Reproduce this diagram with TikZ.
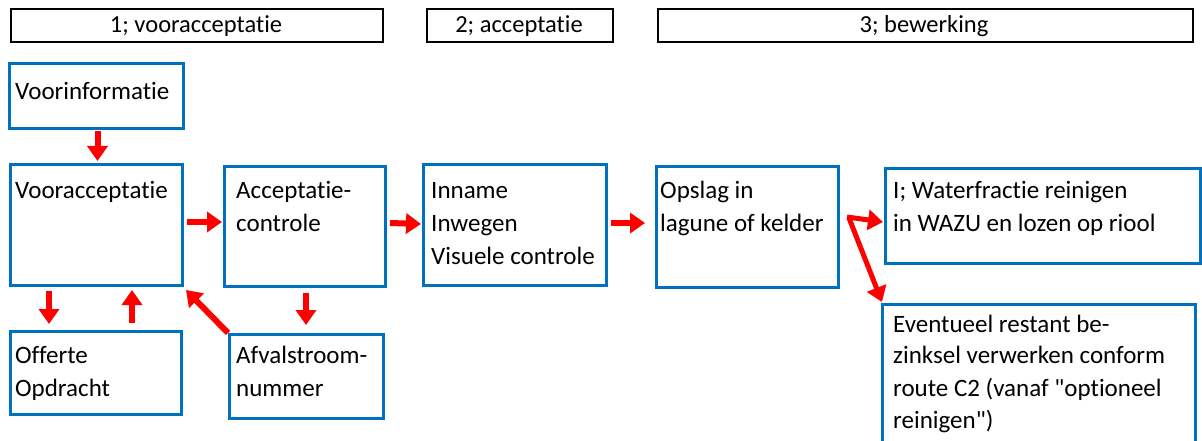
\documentclass[tikz,border=0pt]{standalone}
\usepackage{fontspec}
\newfontfamily\carl{Carlito}[Ligatures=NoCommon]
\usetikzlibrary{arrows.meta,calc}
\definecolor{boxblue}{RGB}{0,112,192}
\begin{document}
\begin{tikzpicture}[x=1pt,y=-1pt,
  hbox/.style={draw=black, line width=1.8pt, inner sep=0pt, anchor=north west},
  bbox/.style={draw=boxblue, line width=3pt, inner sep=0pt, anchor=north west},
  txt/.style={inner sep=0pt, anchor=base west, font=\carl\fontsize{25}{33}\selectfont},
  htxt/.style={inner sep=0pt, anchor=base, font=\carl\fontsize{24.5}{28}\selectfont},
  arr/.style={draw=red, line width=6pt, -{Triangle[length=15pt,width=20pt]}}]
\clip (0,0) rectangle (1202,441);
\useasboundingbox (0,0) rectangle (1202,441);
\fill[white] (0,0) rectangle (1202,441);
% headers
\node[hbox, minimum width=372pt, minimum height=33pt] (h1) at (10,8) {};
\node[hbox, minimum width=186pt, minimum height=33pt] (h2) at (426,8) {};
\node[hbox, minimum width=535pt, minimum height=33pt] (h3) at (657,8) {};
\node[htxt] (h1t) at (196,33) {1; vooracceptatie};
\node[htxt] (h2t) at (519,33) {2; acceptatie};
\node[htxt] (h3t) at (924,33) {3; bewerking};
% boxes
\node[bbox, minimum width=174pt, minimum height=65pt] (vinfo) at (8,62) {};
\node[bbox, minimum width=172pt, minimum height=121pt] (voor) at (9,163) {};
\node[bbox, minimum width=161pt, minimum height=120pt] (acc) at (223,165) {};
\node[bbox, minimum width=183pt, minimum height=121pt] (inn) at (422,163) {};
\node[bbox, minimum width=182pt, minimum height=121pt] (ops) at (655,165) {};
\node[bbox, minimum width=315pt, minimum height=95pt] (wat) at (884,167) {};
\node[bbox, minimum width=171pt, minimum height=83pt] (off) at (9,330) {};
\node[bbox, minimum width=154pt, minimum height=84pt] (afv) at (228,333) {};
\node[bbox, minimum width=313pt, minimum height=160pt] (evt) at (881,303) {};
% texts
\node[txt] (vinfo1) at (15,100) {Voorinformatie};
\node[txt] (voor1) at (15,198) {Vooracceptatie};
\node[txt] (acc1) at (236,198) {Acceptatie-};
\node[txt] (acc2) at (236,231) {controle};
\node[txt] (inn1) at (431,198) {Inname};
\node[txt] (inn2) at (431,231) {Inwegen};
\node[txt] (inn3) at (431,264) {Visuele controle};
\node[txt] (ops1) at (660,198) {Opslag in};
\node[txt] (ops2) at (660,231) {lagune of kelder};
\node[txt] (wat1) at (893,198) {I; Waterfractie reinigen};
\node[txt] (wat2) at (893,231) {in WAZU en lozen op riool};
\node[txt] (off1) at (15,363) {Offerte};
\node[txt] (off2) at (15,396) {Opdracht};
\node[txt] (afv1) at (236,363) {Afvalstroom-};
\node[txt] (afv2) at (236,396) {nummer};
\node[txt] (evt1) at (893,332) {Eventueel restant be-};
\node[txt] (evt2) at (893,363) {zinksel verwerken conform};
\node[txt] (evt3) at (893,396) {route C2 (vanaf "optioneel};
\node[txt] (evt4) at (893,428) {reinigen")};
% arrows
\coordinate (opsout) at ($(ops.north east)+(7,52)$);
\draw[arr] ($(vinfo.south)+(1,1)$) -- ($(voor.north)+(1,-2)$);
\draw[arr] ($(voor.north east)+(3,59)$) -- ($(acc.north west)+(-1,57)$);
\draw[arr] ($(acc.north east)+(3,58)$) -- ($(inn.north west)+(-1,61)$);
\draw[arr] ($(inn.north east)+(3,60)$) -- ($(ops.north west)+(-10,58)$);
\draw[arr, line width=5pt] (opsout) -- ($(wat.north west)+(-1,55)$);
\draw[arr, line width=5pt] ($(opsout)+(2,1)$) -- ($(evt.north west)+(1,-1)$);
\draw[arr] ($(voor.south west)+(40,4)$) -- ($(off.north west)+(40,-6)$);
\draw[arr] ($(off.north west)+(123,-7)$) -- ($(voor.south west)+(123,3)$);
\draw[arr] (afv.north west) -- ($(voor.south east)+(2,3)$);
\draw[arr] ($(acc.south west)+(83,5)$) -- ($(afv.north west)+(78,-8)$);
\end{tikzpicture}
\end{document}
